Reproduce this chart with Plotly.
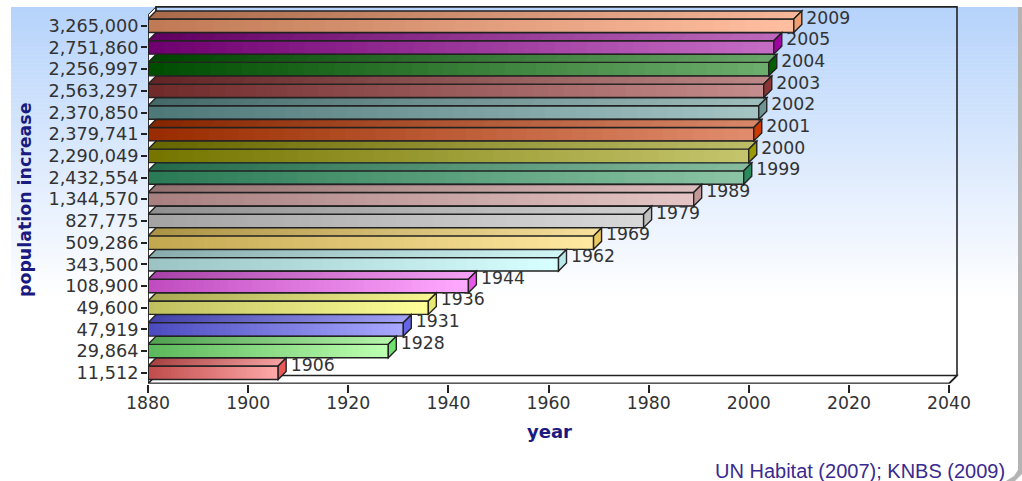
import plotly.graph_objects as go

# ---------- data ----------
population = ["11,512", "29,864", "47,919", "49,600", "108,900", "343,500", "509,286",
              "827,775", "1,344,570", "2,432,554", "2,290,049", "2,379,741", "2,370,850",
              "2,563,297", "2,256,997", "2,751,860", "3,265,000"]
years = [1906, 1928, 1931, 1936, 1944, 1962, 1969, 1979, 1989, 1999, 2000, 2001, 2002,
         2003, 2004, 2005, 2009]
start_colors = ["#c04c4c", "#5cb85c", "#4c4cc0", "#c0c060", "#c04cc0", "#9cc4c4", "#c4a850",
                "#a4a4a4", "#a88080", "#2a7a55", "#757500", "#992c00", "#4f7878",
                "#702a2a", "#004d00", "#700070", "#c07a55"]
end_colors = ["#ffa8a8", "#bcffb0", "#a8a8ff", "#ffff98", "#ffa8ff", "#d8ffff", "#ffe8a0",
              "#d8d8d8", "#e4c4c4", "#8ac4a4", "#c4c46c", "#e08c6c", "#a4c4c4",
              "#c48c8c", "#6cac6c", "#c46cc4", "#ffbea0"]
side_colors = ["#e85858", "#70e070", "#6464e8", "#e8e870", "#e858e8", "#b8e8e8", "#ecc860",
               "#c0c0c0", "#c09898", "#2a8a5e", "#9a9a00", "#cc3a00", "#6e9494",
               "#8a3434", "#006000", "#a000a0", "#f0a070"]
x_ticks = [1880, 1900, 1920, 1940, 1960, 1980, 2000, 2020, 2040]

# ---------- layout constants ----------
W, H = 1022, 481
X0, X1 = 148, 949
Y_TOP, Y_BOT = 14.9, 383.6
XMIN, XMAX = 1880, 2040
PAD = 11                                     # spare pixels right of / above the front box
PX_X = (X1 - X0) / (XMAX - XMIN)
PX_Y = (Y_BOT - Y_TOP) / len(years)
DX = 8 / PX_X                                # depth in years
DY = 8 / PX_Y                                # depth in category units
BAR = 0.62
STEPS = 40
INK = "#222222"
TICK_SIZE = 17.3
LINE = 1.4


def hex2rgb(c):
    return tuple(int(c[i:i + 2], 16) for i in (1, 3, 5))


def mix(a, b, t):
    ca, cb = hex2rgb(a), hex2rgb(b)
    return "rgb(%d,%d,%d)" % tuple(round(p + (q - p) * t) for p, q in zip(ca, cb))


def shade(c, f):
    return "#%02x%02x%02x" % tuple(round(v * f) for v in hex2rgb(c))


def poly(points):
    return "M " + " L ".join(f"{x},{y}" for x, y in points) + " Z"


def page(points):
    return poly([(x / W, 1 - y / H) for x, y in points])


shapes = []

# page background: blue to white vertical gradient
BG_TOP, BG_STOP = 7, 300
BG_N = 73
for i in range(BG_N):
    y0 = BG_TOP + (BG_STOP - BG_TOP) * i / BG_N
    y1 = BG_TOP + (BG_STOP - BG_TOP) * (i + 1) / BG_N + 0.5
    shapes.append(dict(type="rect", xref="paper", yref="paper", layer="below",
                       x0=11 / W, x1=1018 / W, y0=1 - y0 / H, y1=1 - y1 / H,
                       fillcolor=mix("#b6d3fb", "#ffffff", i / (BG_N - 1)), line_width=0))
# grey shadow at the right edge with its rounded bottom corner
shapes.append(dict(type="path", xref="paper", yref="paper", layer="below",
                   path=page([(1018, 7), (1022, 7), (1022, 474), (1015, 481), (1006, 481),
                              (1014, 476), (1018, 470)]),
                   fillcolor="#b4b4b4", line_width=0))

# chart box
ylo, yhi = -0.5, len(years) - 0.5
shapes.append(dict(type="path", layer="below", xref="x", yref="y", fillcolor="white",
                   path=poly([(XMIN, ylo), (XMIN + DX, ylo + DY), (XMIN + DX, yhi + DY), (XMIN, yhi)]),
                   line=dict(color=INK, width=1)))
shapes.append(dict(type="path", layer="below", xref="x", yref="y", fillcolor="white",
                   path=poly([(XMIN, ylo), (XMIN + DX, ylo + DY), (XMAX + DX, ylo + DY), (XMAX, ylo)]),
                   line=dict(color=INK, width=1.5)))
shapes.append(dict(type="path", layer="below", xref="x", yref="y", fillcolor="rgba(0,0,0,0)",
                   path=f"M {XMIN + DX},{ylo + DY} L {XMIN + DX},{yhi + DY} L {XMAX + DX},{yhi + DY} L {XMAX + DX},{ylo + DY}",
                   line=dict(color=INK, width=1.6)))

# top and side faces of each bar, computed from the values
hb = BAR / 2
for i, yr in enumerate(years):
    top = i + hb
    for s in range(STEPS):
        xs = XMIN + (yr - XMIN) * s / STEPS
        col = mix(shade(start_colors[i], 0.88), shade(end_colors[i], 0.96), s / (STEPS - 1))
        # every slice runs to the bar end, later ones cover it: no seams
        shapes.append(dict(type="path", xref="x", yref="y", layer="above", fillcolor=col,
                           line_width=0,
                           path=poly([(xs, top), (xs + DX, top + DY), (yr + DX, top + DY), (yr, top)])))
    shapes.append(dict(type="path", xref="x", yref="y", layer="above", fillcolor="rgba(0,0,0,0)",
                       line=dict(color=INK, width=LINE),
                       path=poly([(XMIN, top), (XMIN + DX, top + DY), (yr + DX, top + DY), (yr, top)])))
    shapes.append(dict(type="path", xref="x", yref="y", layer="above", fillcolor=side_colors[i],
                       line=dict(color=INK, width=LINE),
                       path=poly([(yr, top), (yr + DX, top + DY), (yr + DX, i - hb + DY), (yr, i - hb)])))

# front faces: one bar trace with a gradient built of slices
seg_y, seg_base, seg_len, seg_col = [], [], [], []
for i, yr in enumerate(years):
    for s in range(STEPS):
        a = XMIN + (yr - XMIN) * s / STEPS
        seg_y.append(i)
        seg_base.append(a)
        seg_len.append(yr - a)
        seg_col.append(mix(start_colors[i], end_colors[i], s / (STEPS - 1)))

fig = go.Figure()
fig.add_trace(go.Bar(orientation="h", y=seg_y, x=seg_len, base=seg_base, width=BAR,
                     marker=dict(color=seg_col, line_width=0), hoverinfo="skip", showlegend=False))
fig.add_trace(go.Bar(orientation="h", y=list(range(len(years))),
                     x=[yr - XMIN for yr in years], base=[XMIN] * len(years), width=BAR,
                     marker=dict(color="rgba(0,0,0,0)", line=dict(color=INK, width=LINE)),
                     showlegend=False, hovertemplate="%{text}<extra></extra>", cliponaxis=False,
                     text=[str(yr) for yr in years], textposition="none"))
# front axis lines: drawn unclipped so they sit exactly on the box edge
fig.add_trace(go.Scatter(x=[XMIN, XMIN, XMAX, XMAX + DX], y=[yhi, ylo, ylo, ylo + DY],
                         mode="lines", line=dict(color=INK, width=1.6), cliponaxis=False,
                         hoverinfo="skip", showlegend=False))
fig.add_trace(go.Scatter(x=[yr + DX + 0.9 for yr in years],
                         y=[i + hb - 0.01 for i in range(len(years))],
                         mode="text", text=[str(yr) for yr in years], textposition="middle right",
                         textfont=dict(family="DejaVu Sans", size=TICK_SIZE, color="#333333"),
                         hoverinfo="skip", showlegend=False, cliponaxis=False))

fig.update_layout(
    width=W, height=H, margin=dict(l=0, r=0, t=0, b=0),
    paper_bgcolor="white", plot_bgcolor="rgba(0,0,0,0)",
    barmode="overlay", shapes=shapes, showlegend=False,
    xaxis=dict(domain=[X0 / W, (X1 + PAD) / W], range=[XMIN, XMAX + PAD / PX_X],
               tickmode="array", tickvals=x_ticks, automargin=False, ticklabelstandoff=-4,
               ticks="outside", ticklen=8, tickcolor=INK, tickwidth=1.5, showgrid=False, zeroline=False,
               showline=False, anchor="y",
               tickfont=dict(family="DejaVu Sans", size=TICK_SIZE, color="#333333")),
    yaxis=dict(domain=[1 - Y_BOT / H, 1 - (Y_TOP - PAD) / H], range=[ylo, yhi + PAD / PX_Y],
               tickmode="array", tickvals=list(range(len(years))), ticktext=population,
               automargin=False, ticklabelstandoff=-1,
               ticks="outside", ticklen=6, tickcolor=INK, tickwidth=1.5, showgrid=False, zeroline=False,
               showline=False, anchor="x",
               tickfont=dict(family="DejaVu Sans", size=17.7, color="#333333")),
    annotations=[
        dict(text="<b>year</b>", xref="paper", yref="paper", x=549 / W, y=1 - 431 / H,
             xanchor="center", yanchor="middle", showarrow=False,
             font=dict(family="DejaVu Sans", size=18, color="#1a1a80")),
        dict(text="<b>population increase</b>", xref="paper", yref="paper", x=25 / W, y=1 - 200 / H,
             xanchor="center", yanchor="middle", textangle=-90, showarrow=False,
             font=dict(family="DejaVu Sans", size=17.4, color="#1a1a80")),
        dict(text="UN Habitat (2007); KNBS (2009)", xref="paper", yref="paper", x=1006.5 / W, y=1 - 471 / H,
             xanchor="right", yanchor="middle", showarrow=False,
             font=dict(family="Liberation Sans", size=20, color="#3a2a90")),
    ],
)

fig.write_html("out.html", config=dict(displayModeBar=False),
               post_script="document.body.style.margin='0';")
